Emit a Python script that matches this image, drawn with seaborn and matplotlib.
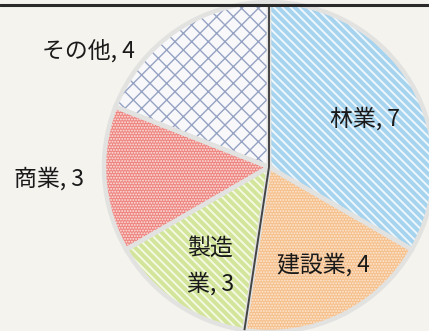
import matplotlib
matplotlib.use("Agg")
import matplotlib.pyplot as plt
import seaborn as sns
import numpy as np
from matplotlib.lines import Line2D

sns.set_theme(style="white")
plt.rcParams['font.family'] = ['Noto Sans CJK JP', 'DejaVu Sans']
plt.rcParams['hatch.linewidth'] = 1.3

categories = ["林業", "建設業", "製造業", "商業", "その他"]
values = [7, 4, 3, 3, 4]
label_texts = ["林業, 7", "建設業, 4", "製造\n業, 3", "商業, 3", "その他, 4"]

face_colors = ["#a6d3ee", "#f6c08c", "#d3e59a", "#ee8580", "#f8f8fb"]
hatch_colors = ["#eef7fc", "#fbe9d6", "#f4f9e4", "#fbe6e3", "#95a2c2"]
hatches = ["\\\\\\\\", "......", "\\\\\\\\", "......", "xx"]
hatch_lw = [1.4, 0.9, 1.4, 0.9, 1.0]
# label positions in axes-fraction (layout only)
label_pos = [(0.85, 0.655), (0.755, 0.205), (0.49, 0.2), (0.115, 0.47), (0.205, 0.865)]

W, H = 429, 331
fig = plt.figure(figsize=(W / 100, H / 100), dpi=100)
fig.patch.set_facecolor("#f5f3ee")
ax = fig.add_axes([0, 0, 1, (H - 7) / H])
ax.set_facecolor("#f5f3ee")

cx, cy, R = 269, 164, 165

wedges, _ = ax.pie(values, startangle=90, counterclock=False,
                   center=(cx, cy), radius=R,
                   colors=face_colors, frame=True,
                   wedgeprops=dict(linewidth=0))
for w, hc, h, lw in zip(wedges, hatch_colors, hatches, hatch_lw):
    w.set_hatch(h)
    w.set_edgecolor(hc)
    w.set_linewidth(0)
    if hasattr(w, "set_hatch_linewidth"):
        w.set_hatch_linewidth(lw)

# gaps between slices
ax.pie(values, startangle=90, counterclock=False, center=(cx, cy), radius=R,
       colors=["none"] * len(values), frame=True,
       wedgeprops=dict(linewidth=3.2, edgecolor="#e2e2e0", fill=False))

# dark shading lines on two boundaries
cum = np.cumsum([0] + values)
total = sum(values)
for idx in [0, 2]:
    ang = np.deg2rad(90 - 360 * cum[idx] / total)
    ax.plot([cx, cx + R * np.cos(ang)], [cy, cy + R * np.sin(ang)],
            color="#444444", lw=1.4, solid_capstyle="butt")

ax.set_xlim(0, W)
ax.set_ylim(0, H - 7)
ax.set_aspect("auto")
ax.axis("off")

for txt, (px, py) in zip(label_texts, label_pos):
    ax.text(px, py, txt, transform=ax.transAxes, ha="center", va="center",
            fontsize=16.5, color="#1a1a1a", linespacing=1.65)

fig.add_artist(Line2D([0, 1], [(H - 5) / H] * 2, transform=fig.transFigure,
                      color="#2a2a2a", lw=2.2))

fig.savefig("out.png", dpi=100, facecolor=fig.get_facecolor())
